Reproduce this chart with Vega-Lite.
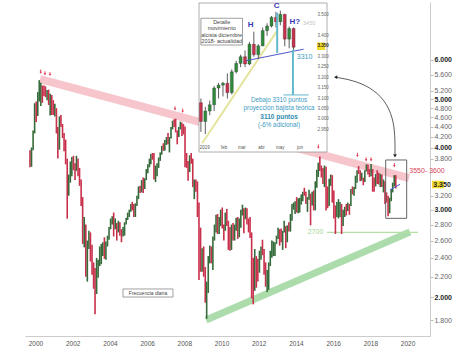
{
"$schema":"https://vega.github.io/schema/vega-lite/v6.json",
"width":405,"height":334,
"autosize":{"type":"none"},
"padding":{"left":25,"top":2,"right":44,"bottom":18},
"background":"white",
"config":{"view":{"stroke":null},"font":"Liberation Sans"},
"datasets":{
"monthly":[
{"d":"1999-09-15","o":3860,"h":3950,"l":3650,"c":3788},
{"d":"1999-10-15","o":3788,"h":4000,"l":3660,"c":3960},
{"d":"1999-11-15","o":3960,"h":4330,"l":3950,"c":4280},
{"d":"1999-12-15","o":4280,"h":4910,"l":4270,"c":4904},
{"d":"2000-01-15","o":4904,"h":4950,"l":4500,"c":4685},
{"d":"2000-02-15","o":4685,"h":5170,"l":4630,"c":5030},
{"d":"2000-03-15","o":5030,"h":5464,"l":4950,"c":5250},
{"d":"2000-04-15","o":5250,"h":5400,"l":4850,"c":5303},
{"d":"2000-05-15","o":5303,"h":5330,"l":4920,"c":5200},
{"d":"2000-06-15","o":5200,"h":5330,"l":5080,"c":5145},
{"d":"2000-07-15","o":5145,"h":5310,"l":5050,"c":5122},
{"d":"2000-08-15","o":5122,"h":5220,"l":4980,"c":5176},
{"d":"2000-09-15","o":5176,"h":5230,"l":4870,"c":4915},
{"d":"2000-10-15","o":4915,"h":5130,"l":4640,"c":5058},
{"d":"2000-11-15","o":5058,"h":5100,"l":4650,"c":4790},
{"d":"2000-12-15","o":4790,"h":4980,"l":4650,"c":4772},
{"d":"2001-01-15","o":4772,"h":4900,"l":4620,"c":4780},
{"d":"2001-02-15","o":4780,"h":4800,"l":4270,"c":4319},
{"d":"2001-03-15","o":4319,"h":4400,"l":3800,"c":4185},
{"d":"2001-04-15","o":4185,"h":4620,"l":3960,"c":4525},
{"d":"2001-05-15","o":4525,"h":4650,"l":4400,"c":4426},
{"d":"2001-06-15","o":4426,"h":4460,"l":4180,"c":4243},
{"d":"2001-07-15","o":4243,"h":4280,"l":3930,"c":4091},
{"d":"2001-08-15","o":4091,"h":4150,"l":3700,"c":3743},
{"d":"2001-09-15","o":3743,"h":3800,"l":2877,"c":3297},
{"d":"2001-10-15","o":3297,"h":3530,"l":3200,"c":3478},
{"d":"2001-11-15","o":3478,"h":3750,"l":3400,"c":3658},
{"d":"2001-12-15","o":3658,"h":3830,"l":3500,"c":3806},
{"d":"2002-01-15","o":3806,"h":3850,"l":3600,"c":3670},
{"d":"2002-02-15","o":3670,"h":3720,"l":3440,"c":3624},
{"d":"2002-03-15","o":3624,"h":3850,"l":3590,"c":3784},
{"d":"2002-04-15","o":3784,"h":3800,"l":3500,"c":3574},
{"d":"2002-05-15","o":3574,"h":3640,"l":3350,"c":3425},
{"d":"2002-06-15","o":3425,"h":3450,"l":3050,"c":3133},
{"d":"2002-07-15","o":3133,"h":3180,"l":2560,"c":2685},
{"d":"2002-08-15","o":2685,"h":2900,"l":2520,"c":2710},
{"d":"2002-09-15","o":2710,"h":2800,"l":2200,"c":2204},
{"d":"2002-10-15","o":2204,"h":2600,"l":2150,"c":2519},
{"d":"2002-11-15","o":2519,"h":2720,"l":2500,"c":2656},
{"d":"2002-12-15","o":2656,"h":2700,"l":2360,"c":2386},
{"d":"2003-01-15","o":2386,"h":2550,"l":2220,"c":2248},
{"d":"2003-02-15","o":2248,"h":2350,"l":2080,"c":2140},
{"d":"2003-03-15","o":2140,"h":2290,"l":1849,"c":2036},
{"d":"2003-04-15","o":2036,"h":2400,"l":2030,"c":2324},
{"d":"2003-05-15","o":2324,"h":2380,"l":2190,"c":2330},
{"d":"2003-06-15","o":2330,"h":2530,"l":2310,"c":2419},
{"d":"2003-07-15","o":2419,"h":2560,"l":2330,"c":2519},
{"d":"2003-08-15","o":2519,"h":2580,"l":2420,"c":2556},
{"d":"2003-09-15","o":2556,"h":2640,"l":2390,"c":2395},
{"d":"2003-10-15","o":2395,"h":2590,"l":2380,"c":2575},
{"d":"2003-11-15","o":2575,"h":2660,"l":2530,"c":2631},
{"d":"2003-12-15","o":2631,"h":2770,"l":2610,"c":2761},
{"d":"2004-01-15","o":2761,"h":2880,"l":2740,"c":2839},
{"d":"2004-02-15","o":2839,"h":2910,"l":2800,"c":2894},
{"d":"2004-03-15","o":2894,"h":2960,"l":2650,"c":2787},
{"d":"2004-04-15","o":2787,"h":2880,"l":2740,"c":2788},
{"d":"2004-05-15","o":2788,"h":2820,"l":2600,"c":2737},
{"d":"2004-06-15","o":2737,"h":2850,"l":2700,"c":2811},
{"d":"2004-07-15","o":2811,"h":2830,"l":2660,"c":2720},
{"d":"2004-08-15","o":2720,"h":2740,"l":2580,"c":2671},
{"d":"2004-09-15","o":2671,"h":2770,"l":2650,"c":2726},
{"d":"2004-10-15","o":2726,"h":2830,"l":2660,"c":2812},
{"d":"2004-11-15","o":2812,"h":2890,"l":2800,"c":2876},
{"d":"2004-12-15","o":2876,"h":2960,"l":2860,"c":2951},
{"d":"2005-01-15","o":2951,"h":3000,"l":2900,"c":2984},
{"d":"2005-02-15","o":2984,"h":3080,"l":2970,"c":3058},
{"d":"2005-03-15","o":3058,"h":3110,"l":2990,"c":3056},
{"d":"2005-04-15","o":3056,"h":3080,"l":2900,"c":2930},
{"d":"2005-05-15","o":2930,"h":3090,"l":2900,"c":3076},
{"d":"2005-06-15","o":3076,"h":3200,"l":3050,"c":3182},
{"d":"2005-07-15","o":3182,"h":3340,"l":3150,"c":3326},
{"d":"2005-08-15","o":3326,"h":3350,"l":3240,"c":3263},
{"d":"2005-09-15","o":3263,"h":3440,"l":3250,"c":3429},
{"d":"2005-10-15","o":3429,"h":3480,"l":3240,"c":3320},
{"d":"2005-11-15","o":3320,"h":3470,"l":3300,"c":3448},
{"d":"2005-12-15","o":3448,"h":3620,"l":3440,"c":3579},
{"d":"2006-01-15","o":3579,"h":3700,"l":3550,"c":3692},
{"d":"2006-02-15","o":3692,"h":3800,"l":3650,"c":3775},
{"d":"2006-03-15","o":3775,"h":3880,"l":3700,"c":3854},
{"d":"2006-04-15","o":3854,"h":3900,"l":3780,"c":3839},
{"d":"2006-05-15","o":3839,"h":3900,"l":3450,"c":3637},
{"d":"2006-06-15","o":3637,"h":3680,"l":3410,"c":3649},
{"d":"2006-07-15","o":3649,"h":3720,"l":3500,"c":3692},
{"d":"2006-08-15","o":3692,"h":3820,"l":3640,"c":3808},
{"d":"2006-09-15","o":3808,"h":3910,"l":3760,"c":3899},
{"d":"2006-10-15","o":3899,"h":4030,"l":3870,"c":4005},
{"d":"2006-11-15","o":4005,"h":4080,"l":3940,"c":3987},
{"d":"2006-12-15","o":3987,"h":4140,"l":3940,"c":4120},
{"d":"2007-01-15","o":4120,"h":4200,"l":4050,"c":4178},
{"d":"2007-02-15","o":4178,"h":4280,"l":4060,"c":4088},
{"d":"2007-03-15","o":4088,"h":4200,"l":3910,"c":4181},
{"d":"2007-04-15","o":4181,"h":4400,"l":4170,"c":4392},
{"d":"2007-05-15","o":4392,"h":4530,"l":4350,"c":4512},
{"d":"2007-06-15","o":4512,"h":4560,"l":4400,"c":4489},
{"d":"2007-07-15","o":4489,"h":4572,"l":4290,"c":4315},
{"d":"2007-08-15","o":4315,"h":4330,"l":4060,"c":4294},
{"d":"2007-09-15","o":4294,"h":4400,"l":4200,"c":4381},
{"d":"2007-10-15","o":4381,"h":4510,"l":4350,"c":4489},
{"d":"2007-11-15","o":4489,"h":4490,"l":4220,"c":4419},
{"d":"2007-12-15","o":4419,"h":4460,"l":4250,"c":4400},
{"d":"2008-01-15","o":4400,"h":4410,"l":3650,"c":3792},
{"d":"2008-02-15","o":3792,"h":3900,"l":3640,"c":3724},
{"d":"2008-03-15","o":3724,"h":3760,"l":3430,"c":3628},
{"d":"2008-04-15","o":3628,"h":3860,"l":3570,"c":3826},
{"d":"2008-05-15","o":3826,"h":3900,"l":3710,"c":3778},
{"d":"2008-06-15","o":3778,"h":3800,"l":3330,"c":3353},
{"d":"2008-07-15","o":3353,"h":3450,"l":3150,"c":3367},
{"d":"2008-08-15","o":3367,"h":3450,"l":3260,"c":3366},
{"d":"2008-09-15","o":3366,"h":3420,"l":2900,"c":3038},
{"d":"2008-10-15","o":3038,"h":3100,"l":2165,"c":2591},
{"d":"2008-11-15","o":2591,"h":2760,"l":2250,"c":2430},
{"d":"2008-12-15","o":2430,"h":2510,"l":2250,"c":2451},
{"d":"2009-01-15","o":2451,"h":2530,"l":2200,"c":2237},
{"d":"2009-02-15","o":2237,"h":2300,"l":1950,"c":1977},
{"d":"2009-03-15","o":1977,"h":2150,"l":1810,"c":2071},
{"d":"2009-04-15","o":2071,"h":2420,"l":2040,"c":2375},
{"d":"2009-05-15","o":2375,"h":2540,"l":2340,"c":2451},
{"d":"2009-06-15","o":2451,"h":2530,"l":2340,"c":2401},
{"d":"2009-07-15","o":2401,"h":2650,"l":2270,"c":2638},
{"d":"2009-08-15","o":2638,"h":2800,"l":2600,"c":2775},
{"d":"2009-09-15","o":2775,"h":2930,"l":2700,"c":2872},
{"d":"2009-10-15","o":2872,"h":2940,"l":2680,"c":2720},
{"d":"2009-11-15","o":2720,"h":2900,"l":2680,"c":2805},
{"d":"2009-12-15","o":2805,"h":3000,"l":2780,"c":2966},
{"d":"2010-01-15","o":2966,"h":3030,"l":2750,"c":2776},
{"d":"2010-02-15","o":2776,"h":2800,"l":2600,"c":2728},
{"d":"2010-03-15","o":2728,"h":2960,"l":2720,"c":2931},
{"d":"2010-04-15","o":2931,"h":3010,"l":2780,"c":2817},
{"d":"2010-05-15","o":2817,"h":2850,"l":2490,"c":2610},
{"d":"2010-06-15","o":2610,"h":2770,"l":2480,"c":2574},
{"d":"2010-07-15","o":2574,"h":2800,"l":2490,"c":2742},
{"d":"2010-08-15","o":2742,"h":2820,"l":2600,"c":2623},
{"d":"2010-09-15","o":2623,"h":2800,"l":2600,"c":2748},
{"d":"2010-10-15","o":2748,"h":2890,"l":2720,"c":2845},
{"d":"2010-11-15","o":2845,"h":2900,"l":2620,"c":2650},
{"d":"2010-12-15","o":2650,"h":2880,"l":2640,"c":2793},
{"d":"2011-01-15","o":2793,"h":3000,"l":2760,"c":2954},
{"d":"2011-02-15","o":2954,"h":3070,"l":2920,"c":3013},
{"d":"2011-03-15","o":3013,"h":3020,"l":2690,"c":2911},
{"d":"2011-04-15","o":2911,"h":3030,"l":2870,"c":3011},
{"d":"2011-05-15","o":3011,"h":3020,"l":2800,"c":2861},
{"d":"2011-06-15","o":2861,"h":2880,"l":2700,"c":2849},
{"d":"2011-07-15","o":2849,"h":2900,"l":2630,"c":2667},
{"d":"2011-08-15","o":2667,"h":2700,"l":1990,"c":2302},
{"d":"2011-09-15","o":2302,"h":2400,"l":1935,"c":2180},
{"d":"2011-10-15","o":2180,"h":2500,"l":2060,"c":2385},
{"d":"2011-11-15","o":2385,"h":2420,"l":2090,"c":2330},
{"d":"2011-12-15","o":2330,"h":2390,"l":2150,"c":2317},
{"d":"2012-01-15","o":2317,"h":2480,"l":2240,"c":2416},
{"d":"2012-02-15","o":2416,"h":2530,"l":2380,"c":2512},
{"d":"2012-03-15","o":2512,"h":2610,"l":2430,"c":2477},
{"d":"2012-04-15","o":2477,"h":2500,"l":2220,"c":2306},
{"d":"2012-05-15","o":2306,"h":2350,"l":2100,"c":2118},
{"d":"2012-06-15","o":2118,"h":2270,"l":2050,"c":2265},
{"d":"2012-07-15","o":2265,"h":2350,"l":2070,"c":2325},
{"d":"2012-08-15","o":2325,"h":2480,"l":2310,"c":2441},
{"d":"2012-09-15","o":2441,"h":2600,"l":2400,"c":2455},
{"d":"2012-10-15","o":2455,"h":2590,"l":2420,"c":2503},
{"d":"2012-11-15","o":2503,"h":2580,"l":2420,"c":2575},
{"d":"2012-12-15","o":2575,"h":2660,"l":2560,"c":2636},
{"d":"2013-01-15","o":2636,"h":2760,"l":2620,"c":2703},
{"d":"2013-02-15","o":2703,"h":2740,"l":2540,"c":2633},
{"d":"2013-03-15","o":2633,"h":2750,"l":2580,"c":2624},
{"d":"2013-04-15","o":2624,"h":2720,"l":2490,"c":2712},
{"d":"2013-05-15","o":2712,"h":2850,"l":2700,"c":2770},
{"d":"2013-06-15","o":2770,"h":2780,"l":2510,"c":2603},
{"d":"2013-07-15","o":2603,"h":2790,"l":2580,"c":2768},
{"d":"2013-08-15","o":2768,"h":2830,"l":2710,"c":2721},
{"d":"2013-09-15","o":2721,"h":2940,"l":2710,"c":2893},
{"d":"2013-10-15","o":2893,"h":3080,"l":2850,"c":3068},
{"d":"2013-11-15","o":3068,"h":3100,"l":3000,"c":3087},
{"d":"2013-12-15","o":3087,"h":3120,"l":2940,"c":3109},
{"d":"2014-01-15","o":3109,"h":3180,"l":2960,"c":2974},
{"d":"2014-02-15","o":2974,"h":3160,"l":2950,"c":3149},
{"d":"2014-03-15","o":3149,"h":3170,"l":2960,"c":3162},
{"d":"2014-04-15","o":3162,"h":3220,"l":3070,"c":3198},
{"d":"2014-05-15","o":3198,"h":3260,"l":3120,"c":3245},
{"d":"2014-06-15","o":3245,"h":3320,"l":3200,"c":3228},
{"d":"2014-07-15","o":3228,"h":3260,"l":3080,"c":3116},
{"d":"2014-08-15","o":3116,"h":3180,"l":2970,"c":3173},
{"d":"2014-09-15","o":3173,"h":3290,"l":3140,"c":3226},
{"d":"2014-10-15","o":3226,"h":3230,"l":2790,"c":3113},
{"d":"2014-11-15","o":3113,"h":3260,"l":3060,"c":3251},
{"d":"2014-12-15","o":3251,"h":3280,"l":2990,"c":3146},
{"d":"2015-01-15","o":3146,"h":3420,"l":2990,"c":3351},
{"d":"2015-02-15","o":3351,"h":3610,"l":3320,"c":3599},
{"d":"2015-03-15","o":3599,"h":3730,"l":3490,"c":3697},
{"d":"2015-04-15","o":3697,"h":3836,"l":3590,"c":3616},
{"d":"2015-05-15","o":3616,"h":3680,"l":3480,"c":3570},
{"d":"2015-06-15","o":3570,"h":3640,"l":3380,"c":3424},
{"d":"2015-07-15","o":3424,"h":3680,"l":3330,"c":3601},
{"d":"2015-08-15","o":3601,"h":3660,"l":2990,"c":3270},
{"d":"2015-09-15","o":3270,"h":3340,"l":3020,"c":3101},
{"d":"2015-10-15","o":3101,"h":3460,"l":3050,"c":3418},
{"d":"2015-11-15","o":3418,"h":3530,"l":3350,"c":3506},
{"d":"2015-12-15","o":3506,"h":3520,"l":3100,"c":3268},
{"d":"2016-01-15","o":3268,"h":3280,"l":2880,"c":3045},
{"d":"2016-02-15","o":3045,"h":3060,"l":2680,"c":2946},
{"d":"2016-03-15","o":2946,"h":3110,"l":2900,"c":3005},
{"d":"2016-04-15","o":3005,"h":3150,"l":2880,"c":3028},
{"d":"2016-05-15","o":3028,"h":3110,"l":2900,"c":3063},
{"d":"2016-06-15","o":3063,"h":3080,"l":2680,"c":2865},
{"d":"2016-07-15","o":2865,"h":3000,"l":2780,"c":2991},
{"d":"2016-08-15","o":2991,"h":3040,"l":2900,"c":3023},
{"d":"2016-09-15","o":3023,"h":3080,"l":2920,"c":3002},
{"d":"2016-10-15","o":3002,"h":3100,"l":2980,"c":3055},
{"d":"2016-11-15","o":3055,"h":3080,"l":2930,"c":3052},
{"d":"2016-12-15","o":3052,"h":3300,"l":3050,"c":3291},
{"d":"2017-01-15","o":3291,"h":3340,"l":3220,"c":3231},
{"d":"2017-02-15","o":3231,"h":3330,"l":3200,"c":3319},
{"d":"2017-03-15","o":3319,"h":3510,"l":3300,"c":3501},
{"d":"2017-04-15","o":3501,"h":3600,"l":3400,"c":3560},
{"d":"2017-05-15","o":3560,"h":3670,"l":3540,"c":3555},
{"d":"2017-06-15","o":3555,"h":3600,"l":3420,"c":3442},
{"d":"2017-07-15","o":3442,"h":3560,"l":3430,"c":3449},
{"d":"2017-08-15","o":3449,"h":3480,"l":3360,"c":3421},
{"d":"2017-09-15","o":3421,"h":3600,"l":3410,"c":3595},
{"d":"2017-10-15","o":3595,"h":3700,"l":3580,"c":3674},
{"d":"2017-11-15","o":3674,"h":3697,"l":3530,"c":3570},
{"d":"2017-12-15","o":3570,"h":3620,"l":3490,"c":3504},
{"d":"2018-01-15","o":3504,"h":3708,"l":3500,"c":3609},
{"d":"2018-02-15","o":3609,"h":3620,"l":3260,"c":3439},
{"d":"2018-03-15","o":3439,"h":3480,"l":3260,"c":3362},
{"d":"2018-04-15","o":3362,"h":3540,"l":3340,"c":3536},
{"d":"2018-05-15","o":3536,"h":3600,"l":3380,"c":3407},
{"d":"2018-06-15","o":3407,"h":3560,"l":3370,"c":3396},
{"d":"2018-07-15","o":3396,"h":3540,"l":3330,"c":3525},
{"d":"2018-08-15","o":3525,"h":3530,"l":3330,"c":3393},
{"d":"2018-09-15","o":3393,"h":3450,"l":3250,"c":3399},
{"d":"2018-10-15","o":3399,"h":3420,"l":3080,"c":3198},
{"d":"2018-11-15","o":3198,"h":3250,"l":3100,"c":3173},
{"d":"2018-12-15","o":3173,"h":3200,"l":2909,"c":3001},
{"d":"2019-01-15","o":3001,"h":3170,"l":2950,"c":3159},
{"d":"2019-02-15","o":3159,"h":3300,"l":3120,"c":3298},
{"d":"2019-03-15","o":3298,"h":3400,"l":3250,"c":3352},
{"d":"2019-04-15","o":3352,"h":3520,"l":3340,"c":3514},
{"d":"2019-05-15","o":3514,"h":3520,"l":3310,"c":3350}
],
"weekly":[
{"d":"2018-12-26","o":3080,"h":3100,"l":2940,"c":2990},
{"d":"2019-01-02","o":2990,"h":3060,"l":2930,"c":3040},
{"d":"2019-01-09","o":3040,"h":3090,"l":3020,"c":3070},
{"d":"2019-01-16","o":3070,"h":3160,"l":3040,"c":3150},
{"d":"2019-01-23","o":3150,"h":3175,"l":3100,"c":3164},
{"d":"2019-01-30","o":3164,"h":3180,"l":3110,"c":3173},
{"d":"2019-02-06","o":3173,"h":3220,"l":3100,"c":3128},
{"d":"2019-02-13","o":3128,"h":3240,"l":3120,"c":3228},
{"d":"2019-02-20","o":3228,"h":3280,"l":3220,"c":3268},
{"d":"2019-02-27","o":3268,"h":3310,"l":3250,"c":3300},
{"d":"2019-03-06","o":3300,"h":3330,"l":3250,"c":3265},
{"d":"2019-03-13","o":3265,"h":3370,"l":3260,"c":3360},
{"d":"2019-03-20","o":3360,"h":3420,"l":3300,"c":3310},
{"d":"2019-03-27","o":3310,"h":3360,"l":3290,"c":3352},
{"d":"2019-04-03","o":3352,"h":3440,"l":3350,"c":3425},
{"d":"2019-04-10","o":3425,"h":3460,"l":3400,"c":3447},
{"d":"2019-04-17","o":3447,"h":3495,"l":3440,"c":3488},
{"d":"2019-04-24","o":3488,"h":3515,"l":3440,"c":3467},
{"d":"2019-05-01","o":3467,"h":3520,"l":3450,"c":3503},
{"d":"2019-05-08","o":3503,"h":3505,"l":3350,"c":3384},
{"d":"2019-05-15","o":3384,"h":3445,"l":3340,"c":3435},
{"d":"2019-05-22","o":3435,"h":3440,"l":3330,"c":3345}
]
},
"layer":[
{"layer":[
{"data":{"values":[{"d":"2000-03-30","p":5488},{"d":"2020-01-30","p":3471}]},
 "mark":{"type":"line","stroke":"#f4bcc3","strokeWidth":8,"opacity":0.85},
 "encoding":{"x":{"field":"d","type":"temporal","title":null,"scale":{"domain":[{"year":1999,"month":6,"date":9,"utc":true},{"year":2021,"month":3,"date":17,"utc":true}],"nice":false}},
  "y":{"field":"p","type":"quantitative","title":null,"scale":{"type":"log","domain":[1671.5,7846],"nice":false,"zero":false}}}},
{"data":{"values":[{"d":"2009-03-02","p":1800},{"d":"2020-02-18","p":2705}]},
 "mark":{"type":"line","stroke":"#a3d8a3","strokeWidth":7,"opacity":0.9},
 "encoding":{"x":{"field":"d","type":"temporal","title":null,"scale":{"domain":[{"year":1999,"month":6,"date":9,"utc":true},{"year":2021,"month":3,"date":17,"utc":true}],"nice":false}},
  "y":{"field":"p","type":"quantitative","title":null,"scale":{"type":"log","domain":[1671.5,7846],"nice":false,"zero":false}}}},
{"data":{"values":[{"d":"2015-09-02","p":2700},{"d":"2020-07-25","p":2700}]},
 "mark":{"type":"line","stroke":"#b5dea5","strokeWidth":1.2},
 "encoding":{"x":{"field":"d","type":"temporal","title":null,"scale":{"domain":[{"year":1999,"month":6,"date":9,"utc":true},{"year":2021,"month":3,"date":17,"utc":true}],"nice":false}},
  "y":{"field":"p","type":"quantitative","title":null,"scale":{"type":"log","domain":[1671.5,7846],"nice":false,"zero":false}}}},
{"data":{"name":"monthly"},
 "mark":{"type":"rule","strokeWidth":1.6},
 "encoding":{"x":{"field":"d","type":"temporal","title":null,"scale":{"domain":[{"year":1999,"month":6,"date":9,"utc":true},{"year":2021,"month":3,"date":17,"utc":true}],"nice":false},
   "axis":{"values":[{"year":2000},{"year":2002},{"year":2004},{"year":2006},{"year":2008},{"year":2010},{"year":2012},{"year":2014},{"year":2016},{"year":2018},{"year":2020}],"format":"%Y","labelFontSize":6.5,"labelColor":"#555","domainColor":"#ccc","ticks":false,"labelPadding":4,"grid":false,"labelOverlap":false,"labelFlush":false}},
  "y":{"field":"l","type":"quantitative","title":null,"scale":{"type":"log","domain":[1671.5,7846],"nice":false,"zero":false},
   "axis":{"orient":"right","values":[1800,2000,2200,2400,2600,2800,3000,3200,3800,4000,4200,4400,4600,4800,5000,5200,5600,6000],"labelExpr":"replace(format(datum.value, ','), ',', '.')","labelFontSize":7,"labelFontWeight":{"condition":{"test":"datum.value % 1000 === 0","value":"bold"},"value":"normal"},"labelColor":{"condition":{"test":"datum.value % 1000 === 0","value":"#222"},"value":"#666"},"tickSize":3,"tickColor":"#bbb","domainColor":"#ccc","labelPadding":1,"grid":false,"labelOverlap":false,"labelFlush":false}},
  "y2":{"field":"h"},
  "color":{"condition":{"test":"datum.c < datum.o","value":"#c8304c"},"value":"#356b3a"}}},
{"data":{"values":[{"d":"2018-10-29","d2":"2019-12-15","p":2882,"p2":3776}]},
 "mark":{"type":"rect","fill":null,"stroke":"#666","strokeWidth":1},
 "encoding":{"x":{"field":"d","type":"temporal","title":null,"scale":{"domain":[{"year":1999,"month":6,"date":9,"utc":true},{"year":2021,"month":3,"date":17,"utc":true}],"nice":false}},"x2":{"field":"d2"},
  "y":{"field":"p","type":"quantitative","title":null,"scale":{"type":"log","domain":[1671.5,7846],"nice":false,"zero":false}},"y2":{"field":"p2"}}},
{"data":{"values":[{"d":"2019-01-22","p":3286},{"d":"2019-08-07","p":3374}]},
 "mark":{"type":"line","stroke":"#4a5ad0","strokeWidth":1},
 "encoding":{"x":{"field":"d","type":"temporal","title":null,"scale":{"domain":[{"year":1999,"month":6,"date":9,"utc":true},{"year":2021,"month":3,"date":17,"utc":true}],"nice":false}},
  "y":{"field":"p","type":"quantitative","title":null,"scale":{"type":"log","domain":[1671.5,7846],"nice":false,"zero":false}}}},
{"data":{"values":[{"i":1,"d":"2016-02-26","p":5537},{"i":2,"d":"2017-01-06","p":5468},{"i":3,"d":"2017-12-25","p":5294},{"i":4,"d":"2018-10-16","p":4984},{"i":5,"d":"2019-03-21","p":4586},{"i":6,"d":"2019-04-30","p":4239},{"i":7,"d":"2019-04-30","p":3880}]},
 "mark":{"type":"line","stroke":"#333","strokeWidth":0.8,"interpolate":"basis"},
 "encoding":{"x":{"field":"d","type":"temporal","title":null,"scale":{"domain":[{"year":1999,"month":6,"date":9,"utc":true},{"year":2021,"month":3,"date":17,"utc":true}],"nice":false}},
  "y":{"field":"p","type":"quantitative","title":null,"scale":{"type":"log","domain":[1671.5,7846],"nice":false,"zero":false}},"order":{"field":"i"}}},
{"data":{"values":[{"d":"2016-02-20","p":5540,"s":"triangle-left"},{"d":"2019-04-30","p":3850,"s":"triangle-down"}]},
 "mark":{"type":"point","filled":true,"color":"#222","size":14,"opacity":1},
 "encoding":{"x":{"field":"d","type":"temporal","title":null,"scale":{"domain":[{"year":1999,"month":6,"date":9,"utc":true},{"year":2021,"month":3,"date":17,"utc":true}],"nice":false}},
  "y":{"field":"p","type":"quantitative","title":null,"scale":{"type":"log","domain":[1671.5,7846],"nice":false,"zero":false}},"shape":{"field":"s","type":"nominal","scale":null}}},
{"data":{"values":[{"d":"2020-02-05","p":3588,"t":"3550- 3600"}]},
 "mark":{"type":"text","align":"left","baseline":"middle","fontSize":7,"color":"#d9465a"},
 "encoding":{"x":{"field":"d","type":"temporal","title":null,"scale":{"domain":[{"year":1999,"month":6,"date":9,"utc":true},{"year":2021,"month":3,"date":17,"utc":true}],"nice":false}},
  "y":{"field":"p","type":"quantitative","title":null,"scale":{"type":"log","domain":[1671.5,7846],"nice":false,"zero":false}},"text":{"field":"t"}}},
{"data":{"values":[{"d":"2015-01-20","p":2700,"t":"2700"}]},
 "mark":{"type":"text","align":"center","baseline":"middle","fontSize":7,"color":"#a5d595"},
 "encoding":{"x":{"field":"d","type":"temporal","title":null,"scale":{"domain":[{"year":1999,"month":6,"date":9,"utc":true},{"year":2021,"month":3,"date":17,"utc":true}],"nice":false}},
  "y":{"field":"p","type":"quantitative","title":null,"scale":{"type":"log","domain":[1671.5,7846],"nice":false,"zero":false}},"text":{"field":"t"}}},
{"data":{"values":[{"d":"2004-09-14","d2":"2007-05-23","p":2002,"p2":2078}]},
 "mark":{"type":"rect","fill":"white","stroke":"#888","strokeWidth":0.8},
 "encoding":{"x":{"field":"d","type":"temporal","title":null,"scale":{"domain":[{"year":1999,"month":6,"date":9,"utc":true},{"year":2021,"month":3,"date":17,"utc":true}],"nice":false}},"x2":{"field":"d2"},
  "y":{"field":"p","type":"quantitative","title":null,"scale":{"type":"log","domain":[1671.5,7846],"nice":false,"zero":false}},"y2":{"field":"p2"}}},
{"data":{"values":[{"d":"2006-01-18","p":2040,"t":"Frecuencia diaria"}]},
 "mark":{"type":"text","align":"center","baseline":"middle","fontSize":5,"color":"#444"},
 "encoding":{"x":{"field":"d","type":"temporal","title":null,"scale":{"domain":[{"year":1999,"month":6,"date":9,"utc":true},{"year":2021,"month":3,"date":17,"utc":true}],"nice":false}},
  "y":{"field":"p","type":"quantitative","title":null,"scale":{"type":"log","domain":[1671.5,7846],"nice":false,"zero":false}},"text":{"field":"t"}}},
{"data":{"values":[{"d":"2021-04-26","d2":"2021-12-17","p":3312,"p2":3430}]},
 "mark":{"type":"rect","fill":"#f2dc2a","stroke":null},
 "encoding":{"x":{"field":"d","type":"temporal","title":null,"scale":{"domain":[{"year":1999,"month":6,"date":9,"utc":true},{"year":2021,"month":3,"date":17,"utc":true}],"nice":false}},"x2":{"field":"d2"},
  "y":{"field":"p","type":"quantitative","title":null,"scale":{"type":"log","domain":[1671.5,7846],"nice":false,"zero":false}},"y2":{"field":"p2"}}},
{"data":{"values":[{"d":"2021-05-20","p":3366,"t":"3.350"}]},
 "mark":{"type":"text","align":"left","baseline":"middle","fontSize":7,"fontWeight":"bold","color":"#222"},
 "encoding":{"x":{"field":"d","type":"temporal","title":null,"scale":{"domain":[{"year":1999,"month":6,"date":9,"utc":true},{"year":2021,"month":3,"date":17,"utc":true}],"nice":false}},
  "y":{"field":"p","type":"quantitative","title":null,"scale":{"type":"log","domain":[1671.5,7846],"nice":false,"zero":false}},"text":{"field":"t"}}}
]},
{"layer":[
{"data":{"values":[{"d":"2018-12-23","d2":"2019-07-14","p":2844,"p2":3557}]},
 "mark":{"type":"rect","fill":"white","stroke":"#999","strokeWidth":0.8},
 "encoding":{"x":{"field":"d","type":"temporal","axis":null,"scale":{"domain":[{"year":2018,"month":12,"date":23,"utc":true},{"year":2019,"month":7,"date":14,"utc":true}],"range":[169,307],"nice":false}},"x2":{"field":"d2"},
  "y":{"field":"p","type":"quantitative","axis":null,"scale":{"domain":[2844,3557],"range":[150,1],"nice":false,"zero":false}},"y2":{"field":"p2"}}},
{"data":{"values":[{"d":"2018-12-28","p":2886},{"d":"2019-04-25","p":3420}]},
 "mark":{"type":"line","stroke":"#e4e49c","strokeWidth":2},
 "encoding":{"x":{"field":"d","type":"temporal","axis":null,"scale":{"domain":[{"year":2018,"month":12,"date":23,"utc":true},{"year":2019,"month":7,"date":14,"utc":true}],"range":[169,307],"nice":false}},
  "y":{"field":"p","type":"quantitative","axis":null,"scale":{"domain":[2844,3557],"range":[150,1],"nice":false,"zero":false}}}},
{"data":{"name":"weekly"},
 "mark":{"type":"rule","stroke":"#333","strokeWidth":0.8},
 "encoding":{"x":{"field":"d","type":"temporal","axis":null,"scale":{"domain":[{"year":2018,"month":12,"date":23,"utc":true},{"year":2019,"month":7,"date":14,"utc":true}],"range":[169,307],"nice":false}},
  "y":{"field":"l","type":"quantitative","axis":null,"scale":{"domain":[2844,3557],"range":[150,1],"nice":false,"zero":false}},"y2":{"field":"h"}}},
{"data":{"name":"weekly"},
 "mark":{"type":"bar","size":3,"stroke":"#222","strokeWidth":0.3},
 "encoding":{"x":{"field":"d","type":"temporal","axis":null,"scale":{"domain":[{"year":2018,"month":12,"date":23,"utc":true},{"year":2019,"month":7,"date":14,"utc":true}],"range":[169,307],"nice":false}},
  "y":{"field":"o","type":"quantitative","axis":null,"scale":{"domain":[2844,3557],"range":[150,1],"nice":false,"zero":false}},"y2":{"field":"c"},
  "color":{"condition":{"test":"datum.c < datum.o","value":"#c8304c"},"value":"#2f8a3a"}}},
{"data":{"values":[{"d":"2019-03-08","p":3281},{"d":"2019-06-07","p":3336}]},
 "mark":{"type":"line","stroke":"#5058c8","strokeWidth":1},
 "encoding":{"x":{"field":"d","type":"temporal","axis":null,"scale":{"domain":[{"year":2018,"month":12,"date":23,"utc":true},{"year":2019,"month":7,"date":14,"utc":true}],"range":[169,307],"nice":false}},
  "y":{"field":"p","type":"quantitative","axis":null,"scale":{"domain":[2844,3557],"range":[150,1],"nice":false,"zero":false}}}},
{"data":{"values":[{"d":"2019-04-26","p":3318,"p2":3510},{"d":"2019-05-21","p":3117,"p2":3333}]},
 "mark":{"type":"rule","stroke":"#62b8cc","strokeWidth":2},
 "encoding":{"x":{"field":"d","type":"temporal","axis":null,"scale":{"domain":[{"year":2018,"month":12,"date":23,"utc":true},{"year":2019,"month":7,"date":14,"utc":true}],"range":[169,307],"nice":false}},
  "y":{"field":"p","type":"quantitative","axis":null,"scale":{"domain":[2844,3557],"range":[150,1],"nice":false,"zero":false}},"y2":{"field":"p2"}}},
{"data":{"values":[{"d":"2019-05-06","d2":"2019-06-15","p":3117}]},
 "mark":{"type":"rule","stroke":"#62b8cc","strokeWidth":1},
 "encoding":{"x":{"field":"d","type":"temporal","axis":null,"scale":{"domain":[{"year":2018,"month":12,"date":23,"utc":true},{"year":2019,"month":7,"date":14,"utc":true}],"range":[169,307],"nice":false}},"x2":{"field":"d2"},
  "y":{"field":"p","type":"quantitative","axis":null,"scale":{"domain":[2844,3557],"range":[150,1],"nice":false,"zero":false}}}},
{"data":{"values":[{"d":"2019-03-15","p":3452,"t":"H"},{"d":"2019-04-25","p":3543,"t":"C"},{"d":"2019-05-24","p":3468,"t":"H?"}]},
 "mark":{"type":"text","align":"center","baseline":"middle","fontSize":8,"fontWeight":"bold","color":"#3a3ab4"},
 "encoding":{"x":{"field":"d","type":"temporal","axis":null,"scale":{"domain":[{"year":2018,"month":12,"date":23,"utc":true},{"year":2019,"month":7,"date":14,"utc":true}],"range":[169,307],"nice":false}},
  "y":{"field":"p","type":"quantitative","axis":null,"scale":{"domain":[2844,3557],"range":[150,1],"nice":false,"zero":false}},"text":{"field":"t"}}},
{"data":{"values":[{"d":"2019-05-27","p":3299,"t":"3310"}]},
 "mark":{"type":"text","align":"left","baseline":"middle","fontSize":7,"color":"#3e9bbf"},
 "encoding":{"x":{"field":"d","type":"temporal","axis":null,"scale":{"domain":[{"year":2018,"month":12,"date":23,"utc":true},{"year":2019,"month":7,"date":14,"utc":true}],"range":[169,307],"nice":false}},
  "y":{"field":"p","type":"quantitative","axis":null,"scale":{"domain":[2844,3557],"range":[150,1],"nice":false,"zero":false}},"text":{"field":"t"}}},
{"data":{"values":[{"d":"2019-04-29","p":3093,"t":"Debajo 3310 puntos"},{"d":"2019-04-29","p":3053,"t":"proyección bajista teórica"},{"d":"2019-04-29","p":2974,"t":"(-6% adicional)"}]},
 "mark":{"type":"text","align":"center","baseline":"middle","fontSize":6.3,"color":"#3e9bbf"},
 "encoding":{"x":{"field":"d","type":"temporal","axis":null,"scale":{"domain":[{"year":2018,"month":12,"date":23,"utc":true},{"year":2019,"month":7,"date":14,"utc":true}],"range":[169,307],"nice":false}},
  "y":{"field":"p","type":"quantitative","axis":null,"scale":{"domain":[2844,3557],"range":[150,1],"nice":false,"zero":false}},"text":{"field":"t"}}},
{"data":{"values":[{"d":"2019-04-29","p":3013,"t":"3110 puntos"}]},
 "mark":{"type":"text","align":"center","baseline":"middle","fontSize":6.5,"fontWeight":"bold","color":"#2f8ab0"},
 "encoding":{"x":{"field":"d","type":"temporal","axis":null,"scale":{"domain":[{"year":2018,"month":12,"date":23,"utc":true},{"year":2019,"month":7,"date":14,"utc":true}],"range":[169,307],"nice":false}},
  "y":{"field":"p","type":"quantitative","axis":null,"scale":{"domain":[2844,3557],"range":[150,1],"nice":false,"zero":false}},"text":{"field":"t"}}},
{"data":{"values":[{"d":"2018-12-26","d2":"2019-03-02","p":3356,"p2":3484}]},
 "mark":{"type":"rect","fill":"white","stroke":"#888","strokeWidth":0.8},
 "encoding":{"x":{"field":"d","type":"temporal","axis":null,"scale":{"domain":[{"year":2018,"month":12,"date":23,"utc":true},{"year":2019,"month":7,"date":14,"utc":true}],"range":[169,307],"nice":false}},"x2":{"field":"d2"},
  "y":{"field":"p","type":"quantitative","axis":null,"scale":{"domain":[2844,3557],"range":[150,1],"nice":false,"zero":false}},"y2":{"field":"p2"}}},
{"data":{"values":[{"d":"2019-01-28","p":3468,"t":"Detalle"},{"d":"2019-01-28","p":3437,"t":"movimiento"},{"d":"2019-01-28","p":3406,"t":"alcista diciembre"},{"d":"2019-01-28","p":3375,"t":"2018- actualidad"}]},
 "mark":{"type":"text","align":"center","baseline":"middle","fontSize":5.5,"color":"#444"},
 "encoding":{"x":{"field":"d","type":"temporal","axis":null,"scale":{"domain":[{"year":2018,"month":12,"date":23,"utc":true},{"year":2019,"month":7,"date":14,"utc":true}],"range":[169,307],"nice":false}},
  "y":{"field":"p","type":"quantitative","axis":null,"scale":{"domain":[2844,3557],"range":[150,1],"nice":false,"zero":false}},"text":{"field":"t"}}},
{"data":{"values":[{"d":"2019-06-28","d2":"2019-07-11","p":3332,"p2":3368}]},
 "mark":{"type":"rect","fill":"#f2dc2a"},
 "encoding":{"x":{"field":"d","type":"temporal","axis":null,"scale":{"domain":[{"year":2018,"month":12,"date":23,"utc":true},{"year":2019,"month":7,"date":14,"utc":true}],"range":[169,307],"nice":false}},"x2":{"field":"d2"},
  "y":{"field":"p","type":"quantitative","axis":null,"scale":{"domain":[2844,3557],"range":[150,1],"nice":false,"zero":false}},"y2":{"field":"p2"}}},
{"data":{"values":[{"d":"2019-06-29","p":3500,"t":"3.500"},{"d":"2019-06-29","p":3400,"t":"3.400"},{"d":"2019-06-29","p":3300,"t":"3.300"},{"d":"2019-06-29","p":3250,"t":"3.250"},{"d":"2019-06-29","p":3200,"t":"3.200"},{"d":"2019-06-29","p":3150,"t":"3.150"},{"d":"2019-06-29","p":3100,"t":"3.100"},{"d":"2019-06-29","p":3050,"t":"3.050"},{"d":"2019-06-29","p":3000,"t":"3.000"},{"d":"2019-06-29","p":2950,"t":"2.950"}]},
 "mark":{"type":"text","align":"left","baseline":"middle","fontSize":4.5,"color":"#666"},
 "encoding":{"x":{"field":"d","type":"temporal","axis":null,"scale":{"domain":[{"year":2018,"month":12,"date":23,"utc":true},{"year":2019,"month":7,"date":14,"utc":true}],"range":[169,307],"nice":false}},
  "y":{"field":"p","type":"quantitative","axis":null,"scale":{"domain":[2844,3557],"range":[150,1],"nice":false,"zero":false}},"text":{"field":"t"}}},
{"data":{"values":[{"d":"2019-06-29","p":3350,"t":"3.350"}]},
 "mark":{"type":"text","align":"left","baseline":"middle","fontSize":4.5,"fontWeight":"bold","color":"#222"},
 "encoding":{"x":{"field":"d","type":"temporal","axis":null,"scale":{"domain":[{"year":2018,"month":12,"date":23,"utc":true},{"year":2019,"month":7,"date":14,"utc":true}],"range":[169,307],"nice":false}},
  "y":{"field":"p","type":"quantitative","axis":null,"scale":{"domain":[2844,3557],"range":[150,1],"nice":false,"zero":false}},"text":{"field":"t"}}},
{"data":{"values":[{"d":"2019-06-06","p":3459,"t":"3450"}]},
 "mark":{"type":"text","align":"left","baseline":"middle","fontSize":5.5,"color":"#c4c4c4"},
 "encoding":{"x":{"field":"d","type":"temporal","axis":null,"scale":{"domain":[{"year":2018,"month":12,"date":23,"utc":true},{"year":2019,"month":7,"date":14,"utc":true}],"range":[169,307],"nice":false}},
  "y":{"field":"p","type":"quantitative","axis":null,"scale":{"domain":[2844,3557],"range":[150,1],"nice":false,"zero":false}},"text":{"field":"t"}}},
{"data":{"values":[{"d":"2019-01-01","p":2864,"t":"2019"},{"d":"2019-02-01","p":2864,"t":"feb"},{"d":"2019-03-01","p":2864,"t":"mar"},{"d":"2019-04-01","p":2864,"t":"abr"},{"d":"2019-05-01","p":2864,"t":"may"},{"d":"2019-06-01","p":2864,"t":"jun"}]},
 "mark":{"type":"text","align":"center","baseline":"middle","fontSize":4.5,"color":"#555"},
 "encoding":{"x":{"field":"d","type":"temporal","axis":null,"scale":{"domain":[{"year":2018,"month":12,"date":23,"utc":true},{"year":2019,"month":7,"date":14,"utc":true}],"range":[169,307],"nice":false}},
  "y":{"field":"p","type":"quantitative","axis":null,"scale":{"domain":[2844,3557],"range":[150,1],"nice":false,"zero":false}},"text":{"field":"t"}}}
]},
{"layer":[
{"data":{"values":[{"d":"2000-04-12","p":5682},{"d":"2000-07-05","p":5640},{"d":"2000-10-12","p":5622},{"d":"2007-07-02","p":4796},{"d":"2007-11-30","p":4744},{"d":"2015-03-16","p":4015},{"d":"2017-04-21","p":3864},{"d":"2017-10-09","p":3788},{"d":"2018-01-15","p":3788},{"d":"2019-04-16","p":3689}]},
 "mark":{"type":"point","shape":"M-0.2,-1L0.2,-1L0.2,0L0.6,0L0,1L-0.6,0L-0.2,0Z","filled":true,"color":"#e0304a","size":18,"opacity":1},
 "encoding":{"x":{"field":"d","type":"temporal","axis":null,"scale":{"domain":[{"year":1999,"month":6,"date":9,"utc":true},{"year":2021,"month":3,"date":17,"utc":true}],"nice":false}},
  "y":{"field":"p","type":"quantitative","axis":null,"scale":{"type":"log","domain":[1671.5,7846],"nice":false,"zero":false}}}}
]}
],
"resolve":{"scale":{"x":"independent","y":"independent"}}
}
